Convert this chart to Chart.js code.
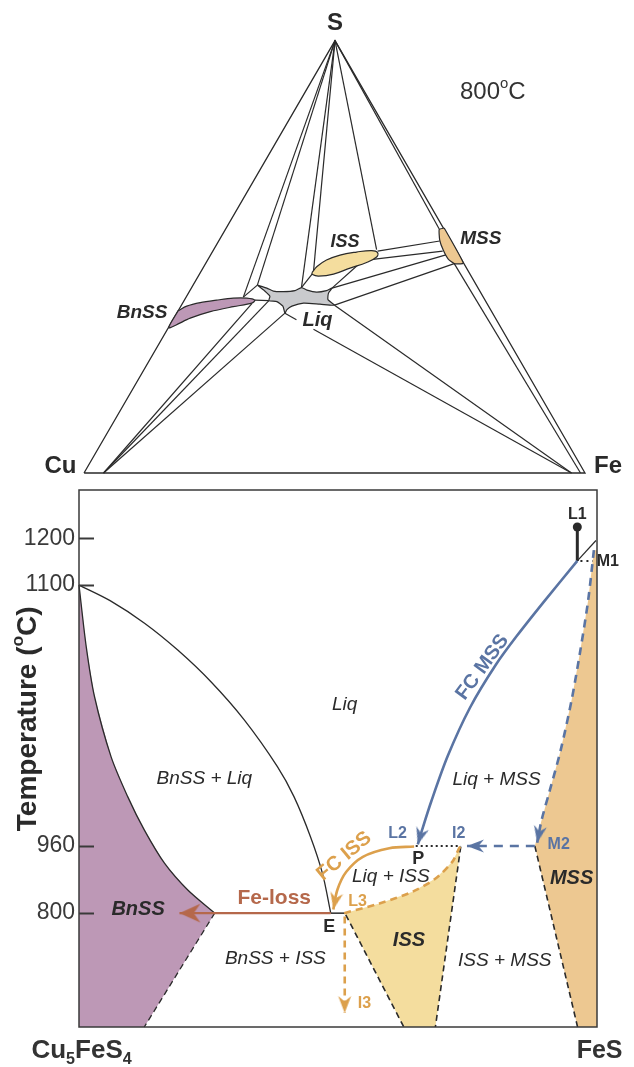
<!DOCTYPE html>
<html>
<head>
<meta charset="utf-8">
<script src="https://cdn.jsdelivr.net/npm/chart.js@4.4.1/dist/chart.umd.min.js"></script>
<style>
  body { margin: 0; background: #fff; width: 634px; height: 1067px; position: relative; overflow: hidden; }
  #tern { position: absolute; left: 0; top: 0; }
  #binary { position: absolute; left: 0; top: 480px; }
</style>
</head>
<body>
<canvas id="tern" width="634" height="480"></canvas>
<canvas id="binary" width="634" height="587"></canvas>
<script>
//shortcut
function el(id) { return document.getElementById(id); }

// TERNARY (800 C section) : triangle units, Cu-Fe base = 100
const triangle = [[0,0],[50.1,86.3],[100,0],[0,0]];
const apexS = [50.1, 86.3];
const sTieEnds = [[31.8,35.1],[34.6,37.5],[43.4,37.0],[45.8,40.2],[58.4,44.6],[70.9,48.7]];
const cuFan = [3.9, 0];
const cuTieEnds = [[33.5,33.8],[36.9,34.4],[40.1,31.9]];
const feFan = [97.3, 0];
const feTieEnds = [[50.0,33.5],[45.8,28.7]];
const feMssTie = [[99.1,0],[73.9,41.8]];
const phaseTies = [
  [[31.8,35.1],[34.6,37.5]],
  [[34.1,34.5],[36.9,34.4]],
  [[45.6,39.8],[43.4,37.0]],
  [[55.1,41.9],[49.5,36.9]],
  [[58.6,44.3],[71.0,46.3]],
  [[57.2,42.6],[71.6,44.3]],
  [[49.5,36.9],[72.4,43.6]],
  [[50.0,33.5],[73.9,41.8]],
  [[40.1,31.9],[42.4,30.6]]
];
const liqShape = [[34.6,37.5],[36.5,36.9],[37.8,36.3],[39.8,36.2],[42.1,36.4],[43.4,37.0],[44.5,36.5],[46.4,36.1],[48.4,36.4],[49.5,36.9],[48.8,35.9],[48.7,34.6],[50.0,33.5],[47.1,33.7],[43.8,33.9],[41.5,33.3],[40.5,32.6],[40.1,31.9],[39.7,33.3],[38.5,34.2],[36.9,34.4],[37.1,35.3],[36.0,36.4],[34.6,37.5]];
const issLens = [[45.5,40.0],[46.5,41.2],[48.4,42.5],[51.1,43.5],[54.4,44.1],[57.4,44.4],[58.6,44.0],[58.4,43.1],[56.4,42.0],[53.1,40.9],[49.8,39.7],[46.8,39.3],[45.6,39.6],[45.5,40.0]];
const bnssLens = [[18.8,32.4],[20.5,33.3],[23.2,34.0],[26.5,34.5],[29.8,34.9],[32.5,34.9],[34.1,34.5],[33.5,33.9],[29.8,33.2],[25.2,32.2],[21.2,30.9],[18.3,29.5],[16.9,29.0],[18.8,32.4]];
const mssLens = [[71.9,48.9],[70.9,48.6],[71.0,46.5],[71.7,44.5],[72.7,42.7],[73.9,41.8],[75.7,41.9],[71.9,48.9]];

// BINARY Cu5FeS4 - FeS : x = fraction towards FeS, y = schematic height (0 bottom, 100 top)
const tickLabels = ["800", "960", "1100", "1200"];
const tickHeights = [21.2, 33.7, 82.3, 91.0];

const bnssSolvus = [[0,82.3],[0.014,70.8],[0.030,61.5],[0.062,50.3],[0.094,42.9],[0.126,36.7],[0.165,30.5],[0.210,25.5],[0.262,21.2]];
const bnssLow = [[0.262,21.2],[0.126,0]];
const liquidusLeft = [[0,82.3],[0.06,79.4],[0.1265,75.2],[0.1906,70.2],[0.2547,64.3],[0.319,57.2],[0.383,48.5],[0.415,42.9],[0.447,35.4],[0.470,28.6],[0.486,21.2]];
const issTop = [[0.512,21.2],[0.580,23.0],[0.644,25.2],[0.689,27.7],[0.721,30.8],[0.734,33.3],[0.737,33.6]];
const issRight = [[0.737,33.6],[0.688,0]];
const issLeft = [[0.515,20.9],[0.627,0]];
const mssSolidus = [[0.994,88.8],[0.983,79.5],[0.968,70.2],[0.951,60.9],[0.930,51.6],[0.909,44.1],[0.893,38.5],[0.8845,34.3]];
const mssLeft = [[0.880,33.7],[0.9625,0]];
const fcMss = [[0.962,86.8],[0.90,79.5],[0.845,72.8],[0.805,67.5],[0.755,59.5],[0.712,50.5],[0.680,42.0],[0.662,36.6],[0.654,34.0]];
const fcIss = [[0.647,33.6],[0.599,33.3],[0.548,31.7],[0.516,28.9],[0.499,25.6],[0.491,21.9]];
const feLoss = [[0.486,21.2],[0.194,21.2]];
const i3Drop = [[0.513,20.6],[0.513,2.6]];
const m2ToI2 = [[0.880,33.7],[0.749,33.7]];
const pToI2 = [[0.650,33.7],[0.737,33.7]];
const eToL3 = [[0.486,21.2],[0.513,21.2]];
const l1Stem = [[0.962,93.1],[0.962,86.8]];
const m1Tie = [[0.962,86.8],[0.998,90.6]];
const m1Dots = [[0.968,86.8],[0.992,86.8]];

const col = {
  ink: "#2a2a2a", blue: "#5a74a3", orange: "#dca04c", brown: "#b5684b",
  purple: "#bd98b6", yellow: "#f4dd9e", tan: "#edc891", gray: "#c9cacd"
};
const FAMILY = '"Liberation Sans", Arial, sans-serif';

function toPts(arr) { return arr.map(p => ({ x: p[0], y: p[1] })); }

function seg(points, colour, width, extra) {
  return Object.assign({
    data: toPts(points), showLine: true, borderColor: colour, borderWidth: width,
    pointRadius: 0, fill: false, tension: 0, order: 5, clip: false
  }, extra || {});
}

function area(points, colour, extra) {
  return Object.assign(seg(points, "rgba(0,0,0,0)", 0), { fill: "shape", backgroundColor: colour, order: 20 }, extra || {});
}

//little notched arrowhead drawn on its own canvas, tip sits at the centre
function makeArrow(colour, len, wid) {
  const s = Math.ceil(len * 2 + 4);
  const c = document.createElement("canvas");
  c.width = s; c.height = s;
  const g = c.getContext("2d");
  const cx = s / 2, cy = s / 2;
  g.fillStyle = colour;
  g.beginPath();
  g.moveTo(cx, cy);
  g.lineTo(cx + wid / 2, cy + len);
  g.lineTo(cx, cy + len * 0.68);
  g.lineTo(cx - wid / 2, cy + len);
  g.closePath();
  g.fill();
  return c;
}

function arrowAngle(ctx) {
  if (ctx.dataIndex === undefined) return 0;
  const d = ctx.dataset.data, n = d.length;
  const sx = ctx.chart.scales.x, sy = ctx.chart.scales.y;
  const a = d[n - 2], b = d[n - 1];
  const dx = sx.getPixelForValue(b.x) - sx.getPixelForValue(a.x);
  const dy = sy.getPixelForValue(b.y) - sy.getPixelForValue(a.y);
  return Math.atan2(dx, -dy) * 180 / Math.PI;
}

function arrow(points, colour, width, head, extra) {
  return seg(points, colour, width, Object.assign({
    pointRadius: ctx => (ctx.dataIndex === ctx.dataset.data.length - 1 ? 1 : 0),
    pointStyle: head,
    rotation: arrowAngle,
    order: 2
  }, extra || {}));
}

//text with optional sub/superscripts, centred on 0,0
function drawRich(ctx, parts, size, weight, style, colour) {
  const fontFor = s => `${style || "normal"} ${weight || "normal"} ${s}px ${FAMILY}`;
  let total = 0;
  const sizes = parts.map(p => {
    const s = (p.sub || p.sup) ? size * 0.62 : size;
    ctx.font = fontFor(s);
    const w = ctx.measureText(p.t).width;
    total += w;
    return { s, w };
  });
  let x = -total / 2;
  ctx.fillStyle = colour;
  ctx.textBaseline = "middle";
  ctx.textAlign = "left";
  parts.forEach((p, i) => {
    ctx.font = fontFor(sizes[i].s);
    const dy = p.sub ? size * 0.34 : (p.sup ? -size * 0.36 : 0);
    ctx.fillText(p.t, x, dy);
    x += sizes[i].w;
  });
}

function textPlugin(items) {
  return {
    id: "textLabels",
    afterDatasetsDraw(chart) {
      const { ctx } = chart;
      const sx = chart.scales.x, sy = chart.scales.y;
      items.forEach(it => {
        ctx.save();
        ctx.translate(sx.getPixelForValue(it.x), sy.getPixelForValue(it.y));
        if (it.rot) ctx.rotate(it.rot * Math.PI / 180);
        drawRich(ctx, it.parts || [{ t: it.text }], it.size, it.weight, it.style, it.color || col.ink);
        ctx.restore();
      });
    }
  };
}

// TERNARY CHART

const ternLabels = [
  { text: "S", x: 50.1, y: 89.8, size: 24, weight: "bold" },
  { text: "Cu", x: -4.7, y: 1.4, size: 24, weight: "bold" },
  { text: "Fe", x: 104.6, y: 1.4, size: 24, weight: "bold" },
  { parts: [{ t: "800" }, { t: "o", sup: true }, { t: "C" }], x: 81.6, y: 76.0, size: 24, color: "#333" },
  { text: "ISS", x: 52.1, y: 46.1, size: 18, weight: "bold", style: "italic" },
  { text: "MSS", x: 79.2, y: 46.7, size: 19, weight: "bold", style: "italic" },
  { text: "BnSS", x: 11.6, y: 31.9, size: 19, weight: "bold", style: "italic" },
  { text: "Liq", x: 46.6, y: 30.4, size: 20, weight: "bold", style: "italic" }
];

const ternSets = [
  area(liqShape, col.gray, { borderColor: col.ink, borderWidth: 1.2, tension: 0.2, order: 10 }),
  area(issLens, col.yellow, { borderColor: col.ink, borderWidth: 1.2, tension: 0.4, order: 10 }),
  area(bnssLens, col.purple, { borderColor: col.ink, borderWidth: 1.2, tension: 0.3, order: 10 }),
  area(mssLens, col.tan, { borderColor: col.ink, borderWidth: 1.2, tension: 0.15, order: 10 }),
  seg(triangle, col.ink, 1.3, { order: 15 })
];
sTieEnds.forEach(p => ternSets.push(seg([apexS, p], col.ink, 1.2, { order: 20 })));
cuTieEnds.forEach(p => ternSets.push(seg([cuFan, p], col.ink, 1.2, { order: 20 })));
feTieEnds.forEach(p => ternSets.push(seg([feFan, p], col.ink, 1.2, { order: 20 })));
ternSets.push(seg(feMssTie, col.ink, 1.2, { order: 20 }));
phaseTies.forEach(pair => ternSets.push(seg(pair, col.ink, 1.2, { order: 20 })));

new Chart(el("tern"), {
  type: "scatter",
  data: { datasets: ternSets },
  options: {
    responsive: false, animation: false, devicePixelRatio: 1, events: [],
    layout: { padding: 0 },
    plugins: { legend: { display: false }, tooltip: { enabled: false } },
    scales: {
      x: { display: false, min: -16.77, max: 109.78, bounds: "data" },
      y: { display: false, min: -1.40, max: 94.41, bounds: "data" }
    }
  },
  plugins: [textPlugin(ternLabels)]
});

// BINARY CHART

const binLabels = [
  { text: "Liq", x: 0.513, y: 60.0, size: 19, style: "italic" },
  { text: "BnSS + Liq", x: 0.242, y: 46.3, size: 19, style: "italic" },
  { text: "Liq + MSS", x: 0.806, y: 46.1, size: 19, style: "italic" },
  { text: "Liq + ISS", x: 0.602, y: 27.9, size: 19, style: "italic" },
  { text: "BnSS + ISS", x: 0.379, y: 12.7, size: 19, style: "italic" },
  { text: "ISS + MSS", x: 0.822, y: 12.4, size: 19, style: "italic" },
  { text: "BnSS", x: 0.114, y: 21.8, size: 20, weight: "bold", style: "italic" },
  { text: "ISS", x: 0.637, y: 16.2, size: 20, weight: "bold", style: "italic" },
  { text: "MSS", x: 0.951, y: 27.7, size: 20, weight: "bold", style: "italic" },
  { text: "E", x: 0.483, y: 18.7, size: 18, weight: "bold" },
  { text: "P", x: 0.655, y: 31.2, size: 18, weight: "bold" },
  { text: "L2", x: 0.615, y: 36.1, size: 16, weight: "bold", color: col.blue },
  { text: "I2", x: 0.733, y: 36.1, size: 16, weight: "bold", color: col.blue },
  { text: "M2", x: 0.926, y: 33.9, size: 16, weight: "bold", color: col.blue },
  { text: "L3", x: 0.538, y: 23.3, size: 16, weight: "bold", color: col.orange },
  { text: "I3", x: 0.551, y: 4.3, size: 16, weight: "bold", color: col.orange },
  { text: "L1", x: 0.962, y: 95.4, size: 16, weight: "bold" },
  { text: "M1", x: 1.021, y: 86.6, size: 16, weight: "bold" },
  { text: "FC ISS", x: 0.512, y: 31.8, size: 20, weight: "bold", color: col.orange, rot: -40 },
  { text: "FC MSS", x: 0.779, y: 67.0, size: 20, weight: "bold", color: col.blue, rot: -54 },
  { text: "Fe-loss", x: 0.377, y: 24.0, size: 21, weight: "bold", color: col.brown },
  { parts: [{ t: "Cu" }, { t: "5", sub: true }, { t: "FeS" }, { t: "4", sub: true }], x: 0.005, y: -4.4, size: 26, weight: "bold", color: "#333" },
  { text: "FeS", x: 1.005, y: -4.4, size: 25, weight: "bold", color: "#333" }
];

//box, inward tick marks and the rotated axis title
const framePlugin = {
  id: "frame",
  afterDatasetsDraw(chart) {
    const { ctx, chartArea: a } = chart;
    const sy = chart.scales.y;
    ctx.save();
    ctx.strokeStyle = "#3a3a3a";
    ctx.lineWidth = 1.5;
    ctx.strokeRect(a.left, a.top, a.right - a.left, a.bottom - a.top);
    ctx.lineWidth = 2;
    tickHeights.forEach(v => {
      const py = Math.round(sy.getPixelForValue(v)) + 0.5;
      ctx.beginPath();
      ctx.moveTo(a.left, py);
      ctx.lineTo(a.left + 15, py);
      ctx.stroke();
    });
    ctx.translate(a.left - 51, sy.getPixelForValue(57.4));
    ctx.rotate(-Math.PI / 2);
    drawRich(ctx, [{ t: "Temperature (" }, { t: "o", sup: true }, { t: "C)" }], 28, "bold", "normal", "#2a2a2a");
    ctx.restore();
  }
};

const blueHead = makeArrow(col.blue, 17, 13);
const orangeHead = makeArrow(col.orange, 17, 13);
const brownHead = makeArrow(col.brown, 21, 19);

//mss field: M2, up the solidus, then down the FeS side
const mssField = [[0.880,33.7]].concat(mssSolidus.slice(0, -1).reverse()).concat([[1,88.8],[1,0],[0.9625,0]]);

const binSets = [
  area(bnssSolvus.concat([[0.126,0],[0,0]]), col.purple),
  area(issTop.concat([[0.688,0],[0.627,0],[0.515,20.9]]), col.yellow),
  area(mssField, col.tan),

  seg(bnssSolvus, col.ink, 1.3, { tension: 0.3, order: 10 }),
  seg(liquidusLeft, col.ink, 1.3, { tension: 0.3, order: 10 }),
  seg(bnssLow, col.ink, 1.3, { borderDash: [6, 4], order: 10 }),
  seg(issRight, col.ink, 1.6, { borderDash: [6, 4], order: 10 }),
  seg(issLeft, col.ink, 1.6, { borderDash: [6, 4], order: 10 }),
  seg(mssLeft, col.ink, 1.6, { borderDash: [6, 4], order: 10 }),
  seg(eToL3, col.ink, 1.5, { order: 10 }),
  seg(pToI2, col.ink, 2, { borderDash: [2, 3], order: 10 }),
  seg(m1Tie, col.ink, 1.2, { order: 10 }),
  seg(m1Dots, col.ink, 2, { borderDash: [2, 4], order: 10 }),
  seg(l1Stem, col.ink, 3, {
    order: 3,
    pointRadius: ctx => (ctx.dataIndex === 0 ? 4.5 : 0),
    pointBackgroundColor: col.ink, pointBorderWidth: 0
  }),

  seg(issTop, col.orange, 2.6, { borderDash: [7, 5], tension: 0.3 }),
  arrow(mssSolidus, col.blue, 2.6, blueHead, { borderDash: [8, 6], tension: 0.3 }),
  arrow(fcMss, col.blue, 2.6, blueHead, { tension: 0.3 }),
  arrow(fcIss, col.orange, 2.6, orangeHead, { tension: 0.35 }),
  arrow(feLoss, col.brown, 2.4, brownHead),
  arrow(i3Drop, col.orange, 2.6, orangeHead, { borderDash: [7, 5] }),
  arrow(m2ToI2, col.blue, 2.6, blueHead, { borderDash: [9, 7] })
];

new Chart(el("binary"), {
  type: "scatter",
  data: { datasets: binSets },
  options: {
    responsive: false, animation: false, devicePixelRatio: 1, events: [],
    layout: { padding: { left: 0, right: 37, top: 10, bottom: 40 } },
    plugins: { legend: { display: false }, tooltip: { enabled: false } },
    scales: {
      x: { display: false, min: 0, max: 1, bounds: "data" },
      y: {
        min: 0, max: 100, bounds: "data",
        afterBuildTicks: s => { s.ticks = tickHeights.map(v => ({ value: v })); },
        afterFit: s => { s.width = 79; s.paddingTop = 0; s.paddingBottom = 0; },
        ticks: {
          autoSkip: false, padding: 4, color: "#3a3a3a",
          font: { family: "Liberation Sans", size: 23 },
          callback: (v, i) => tickLabels[i]
        },
        grid: { display: false, drawTicks: false },
        border: { display: false }
      }
    }
  },
  plugins: [framePlugin, textPlugin(binLabels)]
});
</script>
</body>
</html>
